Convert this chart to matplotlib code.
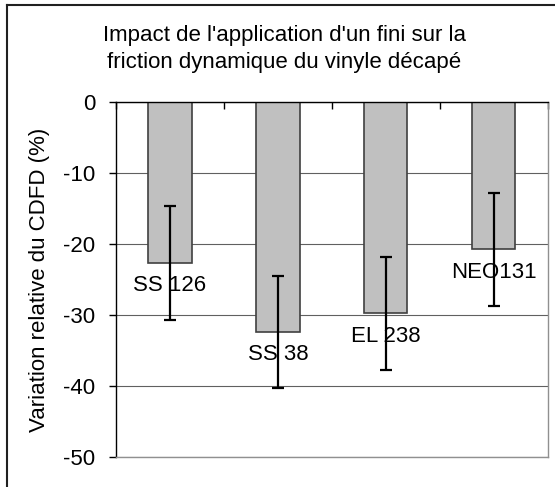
import matplotlib
matplotlib.use("Agg")
import matplotlib.pyplot as plt
from matplotlib.lines import Line2D

plt.rcParams['font.family'] = ['Liberation Sans', 'DejaVu Sans']

# donnees
produits = ['SS 126', 'SS 38', 'EL 238', 'NEO131']
variation = [-22.6, -32.3, -29.7, -20.7]
erreur = [8.0, 7.9, 8.0, 8.0]
yticks = [0, -10, -20, -30, -40, -50]

taille = 16

fig = plt.figure(figsize=(5.55, 4.87), dpi=100)
ax = fig.add_axes([0.209, 0.0606, 0.778, 0.729])

x = list(range(len(produits)))
ax.bar(x, variation, width=0.4, color='#c0c0c0', edgecolor='#404040',
       linewidth=1.2, zorder=2)
ax.errorbar(x, variation, yerr=erreur, fmt='none', ecolor='black',
            elinewidth=1.6, capsize=4, capthick=1.6, zorder=4)

for xi, v, nom in zip(x, variation, produits):
    ax.annotate(nom, (xi, v), xytext=(0, -23), textcoords='offset pixels',
                ha='center', va='center', fontsize=taille, zorder=3)

ax.set_xlim(-0.5, len(produits) - 0.5)
ax.set_ylim(-50, 0)
ax.set_yticks(yticks)
ax.set_yticklabels([str(t) for t in yticks], fontsize=taille)
ax.yaxis.grid(True, color='#606060', linewidth=0.8, zorder=0)
ax.set_axisbelow(True)

ax.xaxis.tick_top()
ax.set_xticks([i - 0.5 for i in range(len(produits) + 1)])
ax.set_xticklabels([])
ax.tick_params(axis='x', direction='in', length=5, width=1, color='black')
ax.tick_params(axis='y', direction='out', length=5, width=1, pad=10)

ax.spines['top'].set_color('black')
ax.spines['left'].set_color('black')
ax.spines['right'].set_color('#909090')
ax.spines['bottom'].set_color('#909090')
for s in ax.spines.values():
    s.set_linewidth(1.0)

ax.set_ylabel('Variation relative du CDFD (%)', fontsize=taille, labelpad=9)

fig.text(0.512, 0.9, "Impact de l'application d'un fini sur la\nfriction dynamique du vinyle décapé",
         ha='center', va='center', fontsize=taille, linespacing=1.4)

# cadre autour du graphique
x0 = 7 / 555
y0 = 1 - 5 / 487
fig.add_artist(Line2D([x0, x0], [0, y0], color='#202020', linewidth=1.5))
fig.add_artist(Line2D([x0, 1], [y0, y0], color='#202020', linewidth=1.5))

fig.savefig('out.png', dpi=100)
